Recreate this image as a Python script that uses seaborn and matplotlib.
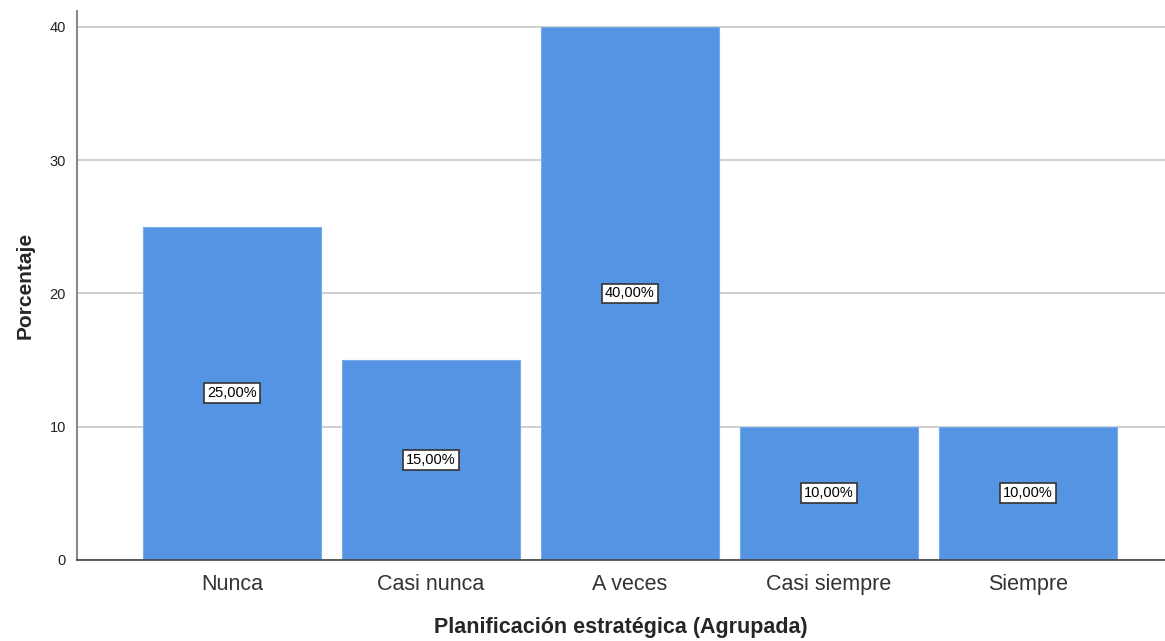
import matplotlib
matplotlib.use('Agg')
import matplotlib.pyplot as plt
import seaborn as sns
import pandas as pd

categorias = ["Nunca", "Casi nunca", "A veces", "Casi siempre", "Siempre"]
porcentajes = [25.0, 15.0, 40.0, 10.0, 10.0]
etiquetas = ["25,00%", "15,00%", "40,00%", "10,00%", "10,00%"]
yticks = [0, 10, 20, 30, 40]

sns.set_style('white')
plt.rcParams['font.family'] = ['Liberation Sans', 'DejaVu Sans']

df = pd.DataFrame({'cat': categorias, 'pct': porcentajes})

fig = plt.figure(figsize=(11.65, 6.41), dpi=100)
ax = fig.add_axes([0.0661, 0.1264, 0.9339, 0.8566])

sns.barplot(data=df, x='cat', y='pct', color='#5594E3', saturation=1,
            width=0.895, edgecolor='#79aaea', linewidth=0.8, ax=ax, zorder=2)

# labels in the middle of each bar
for i, (v, t) in enumerate(zip(porcentajes, etiquetas)):
    ax.text(i, v / 2, t, ha='center', va='center', fontsize=10.5, color='black', zorder=3,
            bbox=dict(boxstyle='square,pad=0.2', fc='white', ec='#333333', lw=1.2))

ax.set_xlim(-0.78, 4.69)
ax.set_ylim(0, 41.2)
ax.set_yticks(yticks)
ax.yaxis.grid(True, color='#c8c8c8', lw=1.2, zorder=0)
ax.set_axisbelow(True)
ax.tick_params(axis='both', length=0)
ax.tick_params(axis='y', labelsize=10.5, colors='#222222', pad=8)
ax.tick_params(axis='x', labelsize=15.5, colors='#333333', pad=10)

for s in ['top', 'right']:
    ax.spines[s].set_visible(False)
ax.spines['left'].set_color('#888888')
ax.spines['left'].set_linewidth(1.5)
ax.spines['bottom'].set_color('#444444')
ax.spines['bottom'].set_linewidth(1.2)

ax.set_xlabel('Planificación estratégica (Agrupada)', fontsize=15.5, fontweight='bold', labelpad=16)
ax.set_ylabel('Porcentaje', fontsize=15, fontweight='bold', labelpad=11)

fig.savefig('out.png', dpi=100)
